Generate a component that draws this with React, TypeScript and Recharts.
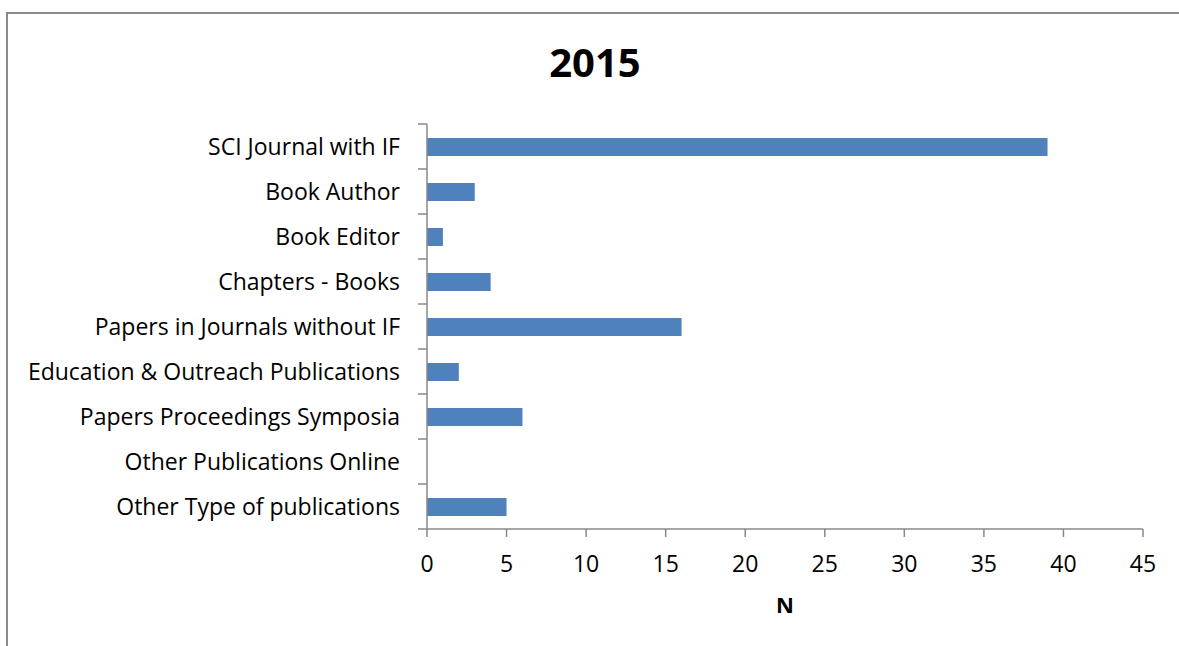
import { BarChart, Bar, XAxis, YAxis } from "recharts";

const categories = [
  "SCI Journal with IF",
  "Book Author",
  "Book Editor",
  "Chapters - Books",
  "Papers in Journals without IF",
  "Education & Outreach Publications",
  "Papers Proceedings Symposia",
  "Other Publications Online",
  "Other Type of publications",
];
const counts = [39, 3, 1, 4, 16, 2, 6, 0, 5];
const xTicks = [0, 5, 10, 15, 20, 25, 30, 35, 40, 45];

const data = categories.map((name, i) => ({ name, n: counts[i] }));

const FONT = "'Open Sans', sans-serif";
const AXIS = "#898989";
const PLOT_LEFT = 427;
const BAND = 45;

function CategoryTick(props: any) {
  const { y, payload, index } = props;
  const last = index === categories.length - 1;
  return (
    <g>
      <line x1={PLOT_LEFT - 9} x2={PLOT_LEFT} y1={y - BAND / 2} y2={y - BAND / 2} stroke={AXIS} strokeWidth={1.5} />
      {last && (
        <line x1={PLOT_LEFT - 9} x2={PLOT_LEFT} y1={y + BAND / 2} y2={y + BAND / 2} stroke={AXIS} strokeWidth={1.5} />
      )}
      <text x={PLOT_LEFT - 27} y={y} dy="0.36em" textAnchor="end" fontFamily={FONT} fontSize={23} fill="#000">
        {payload.value}
      </text>
    </g>
  );
}

export default function App() {
  return (
    <div style={{ position: "absolute", left: 0, top: 0, width: 1179, height: 646, background: "#fff", overflow: "hidden" }}>
      <div
        style={{
          position: "absolute",
          left: 6,
          top: 12,
          width: 1200,
          height: 700,
          borderLeft: `2px solid ${AXIS}`,
          borderTop: `2px solid ${AXIS}`,
        }}
      />
      <div
        style={{
          position: "absolute",
          left: 0,
          top: 42,
          width: 1190,
          textAlign: "center",
          fontFamily: FONT,
          fontWeight: 700,
          fontSize: 40,
          lineHeight: "40px",
          color: "#000",
        }}
      >
        2015
      </div>
      <div style={{ position: "absolute", left: 0, top: 0 }}>
        <BarChart
          width={1179}
          height={646}
          data={data}
          layout="vertical"
          margin={{ top: 124, right: 36, bottom: 77, left: 0 }}
        >
          <XAxis
            type="number"
            domain={[0, 45]}
            ticks={xTicks}
            interval={0}
            height={40}
            tickSize={8}
            tickMargin={19}
            stroke={AXIS}
            strokeWidth={1.5}
            tick={{ fill: "#000", fontSize: 23, fontFamily: FONT }}
            label={{ value: "N", position: "bottom", offset: 28, fill: "#000", fontSize: 22, fontWeight: 700, fontFamily: FONT }}
          />
          <YAxis
            type="category"
            dataKey="name"
            width={427}
            interval={0}
            tickLine={false}
            stroke={AXIS}
            strokeWidth={1.5}
            tick={<CategoryTick />}
          />
          <Bar dataKey="n" fill="#4F81BD" barSize={18} isAnimationActive={false} />
        </BarChart>
      </div>
    </div>
  );
}
